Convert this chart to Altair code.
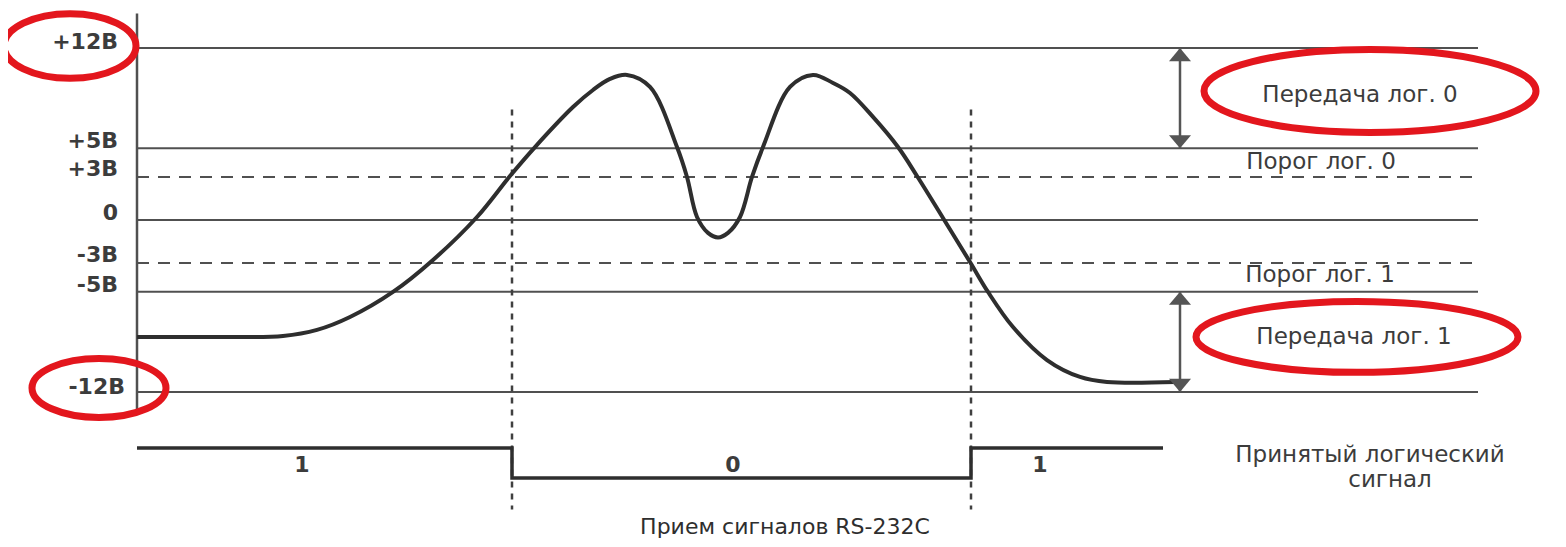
import altair as alt
import pandas as pd

# ---------------- data ----------------
# received analog waveform: time (arbitrary units) and voltage (V)
curve_t = [129, 202, 275, 309, 342, 385, 425, 469, 502, 527, 565, 585, 602, 619,
           642, 669, 679, 689, 700, 710, 720, 732, 744, 755, 782, 805, 825, 842,
           865, 890, 909, 935, 962, 980, 1005, 1039, 1072, 1099, 1167]
curve_v = [-8.16, -8.16, -8.09, -7.67, -6.77, -5.02, -2.79, 0.21, 3.07, 5.09, 7.88,
           9.07, 9.84, 10.12, 9.28, 5.09, 3.00, 0.21, -0.90, -1.22, -0.90, 0.21, 3.00,
           5.09, 9.28, 10.12, 9.56, 8.86, 7.19, 5.09, 3.07, 0.14, -2.93, -5.02,
           -7.47, -9.77, -10.95, -11.30, -11.30]

# reference voltage levels
levels_solid = [12, 5, 0, -5, -12]
levels_dashed = [3, -3]
levels_t_start = 129
levels_t_end = 1470

# voltage axis labels
tick_labels = ["+12В", "+5В", "+3В", "0", "-3В", "-5В", "-12В"]
tick_label_v = [12.42, 5.51, 3.56, 0.49, -2.44, -4.53, -11.65]
tick_label_t = [110, 110, 110, 110, 110, 110, 117]

# bit boundaries (dashed verticals)
bit_bounds_t = [504, 963]
bit_bounds_v = [7.7, -20.2]

# received logic signal (step)
logic_t = [129, 504, 504, 963, 963, 1155]
logic_v = [-15.9, -15.9, -18.0, -18.0, -15.9, -15.9]
bit_labels = ["1", "0", "1"]
bit_label_t = [294, 725, 1032]
bit_label_v = [-17.1, -17.1, -17.1]

# range arrows on the right
arrow_t = 1172
arrow_ranges = [(12, 5), (-5, -12)]

# right side labels
right_labels = ["Передача лог. 0", "Порог лог. 0", "Порог лог. 1", "Передача лог. 1",
                "Принятый логический", "сигнал"]
right_label_t = [1352, 1313, 1312, 1346, 1362, 1382]
right_label_v = [8.72, 4.05, -3.84, -8.16, -16.40, -18.14]

title_text = "Прием сигналов RS-232C"
title_t, title_v = 777, -21.42

# red highlight ellipses: centre (t, v), half width px, aspect
ell_t = [62, 91, 1362, 1349]
ell_v = [12.14, -11.72, 9.0, -8.16]
ell_rx = [66, 67, 166, 161]
ell_aspect = [0.49, 0.44, 0.25, 0.22]

# ---------------- chart ----------------
W, H = 1550, 531
xs = alt.Scale(domain=[0, 1550], nice=False, zero=False)
ys = alt.Scale(domain=[-22.256, 14.79], nice=False, zero=False)
X = lambda f: alt.X(f, type="quantitative", scale=xs, axis=None)
Y = lambda f: alt.Y(f, type="quantitative", scale=ys, axis=None)
INK = "#3c3c3c"
FONT = "DejaVu Sans"

layers = []

# levels
df_solid = pd.DataFrame({"v": levels_solid, "t0": levels_t_start, "t1": levels_t_end})
layers.append(alt.Chart(df_solid).mark_rule(color="#505050", strokeWidth=2).encode(
    y=Y("v"), x=X("t0"), x2="t1"))
df_dash = pd.DataFrame({"v": levels_dashed, "t0": levels_t_start, "t1": levels_t_end})
layers.append(alt.Chart(df_dash).mark_rule(color="#505050", strokeWidth=2,
                                           strokeDash=[12, 9]).encode(
    y=Y("v"), x=X("t0"), x2="t1"))

# vertical voltage axis
df_axis = pd.DataFrame({"t": [129], "v0": [14.4], "v1": [-13.6]})
layers.append(alt.Chart(df_axis).mark_rule(color="#505050", strokeWidth=2.5).encode(
    x=X("t"), y=Y("v0"), y2="v1"))

# bit boundaries
df_bb = pd.DataFrame({"t": bit_bounds_t, "v0": bit_bounds_v[0], "v1": bit_bounds_v[1]})
layers.append(alt.Chart(df_bb).mark_rule(color="#404040", strokeWidth=2.5,
                                         strokeDash=[6, 6]).encode(
    x=X("t"), y=Y("v0"), y2="v1"))

# curve
df_curve = pd.DataFrame({"t": curve_t, "v": curve_v})
layers.append(alt.Chart(df_curve).mark_line(color="#2e2e2e", strokeWidth=4,
                                            interpolate="catmull-rom").encode(
    x=X("t"), y=Y("v")))

# logic signal
df_logic = pd.DataFrame({"t": logic_t, "v": logic_v, "o": list(range(len(logic_t)))})
layers.append(alt.Chart(df_logic).mark_line(color="#2e2e2e", strokeWidth=3.5).encode(
    x=X("t"), y=Y("v"), order="o:Q"))

# arrows
df_arr = pd.DataFrame({"t": [arrow_t] * 2,
                       "v0": [r[0] for r in arrow_ranges],
                       "v1": [r[1] for r in arrow_ranges]})
layers.append(alt.Chart(df_arr).mark_rule(color="#555555", strokeWidth=2.5).encode(
    x=X("t"), y=Y("v0"), y2="v1"))
up_tips = [max(r) for r in arrow_ranges]
down_tips = [min(r) for r in arrow_ranges]
layers.append(alt.Chart(pd.DataFrame({"t": [arrow_t] * 2, "v": up_tips})).mark_point(
    shape="M 0 0 L 1 1.2 L -1 1.2 Z", size=484, filled=True, color="#555555",
    opacity=1).encode(x=X("t"), y=Y("v")))
layers.append(alt.Chart(pd.DataFrame({"t": [arrow_t] * 2, "v": down_tips})).mark_point(
    shape="M 0 0 L 1 -1.2 L -1 -1.2 Z", size=484, filled=True, color="#555555",
    opacity=1).encode(x=X("t"), y=Y("v")))

# axis labels
df_tl = pd.DataFrame({"t": tick_label_t, "v": tick_label_v, "s": tick_labels})
layers.append(alt.Chart(df_tl).mark_text(align="right", baseline="middle", font=FONT,
                                         fontSize=22, fontWeight="bold", color=INK).encode(
    x=X("t"), y=Y("v"), text="s:N"))

# bit labels
df_bl = pd.DataFrame({"t": bit_label_t, "v": bit_label_v, "s": bit_labels})
layers.append(alt.Chart(df_bl).mark_text(align="center", baseline="middle", font=FONT,
                                         fontSize=22, fontWeight="bold", color=INK).encode(
    x=X("t"), y=Y("v"), text="s:N"))

# right labels
df_rl = pd.DataFrame({"t": right_label_t, "v": right_label_v, "s": right_labels})
layers.append(alt.Chart(df_rl).mark_text(align="center", baseline="middle", font=FONT,
                                         fontSize=23, color=INK).encode(
    x=X("t"), y=Y("v"), text="s:N"))

# title
df_title = pd.DataFrame({"t": [title_t], "v": [title_v], "s": [title_text]})
layers.append(alt.Chart(df_title).mark_text(align="center", baseline="middle", font=FONT,
                                            fontSize=22, color="#2e2e2e").encode(
    x=X("t"), y=Y("v"), text="s:N"))

# red ellipses
def ellipse_path(a):
    k = 0.5523
    return (f"M 1 0 C 1 {k*a:.4f} {k:.4f} {a:.4f} 0 {a:.4f} "
            f"C {-k:.4f} {a:.4f} -1 {k*a:.4f} -1 0 "
            f"C -1 {-k*a:.4f} {-k:.4f} {-a:.4f} 0 {-a:.4f} "
            f"C {k:.4f} {-a:.4f} 1 {-k*a:.4f} 1 0 Z")

for t, v, rx, a in zip(ell_t, ell_v, ell_rx, ell_aspect):
    layers.append(alt.Chart(pd.DataFrame({"t": [t], "v": [v]})).mark_point(
        shape=ellipse_path(a), size=(2 * rx) ** 2, filled=False, color="#e3161d",
        strokeWidth=7, opacity=1).encode(x=X("t"), y=Y("v")))

chart = alt.layer(*layers).properties(
    width=W, height=H, autosize="none", padding=0, background="white"
).configure_view(strokeWidth=0)

chart.save("out.html", embed_options={"renderer": "svg", "actions": False})
